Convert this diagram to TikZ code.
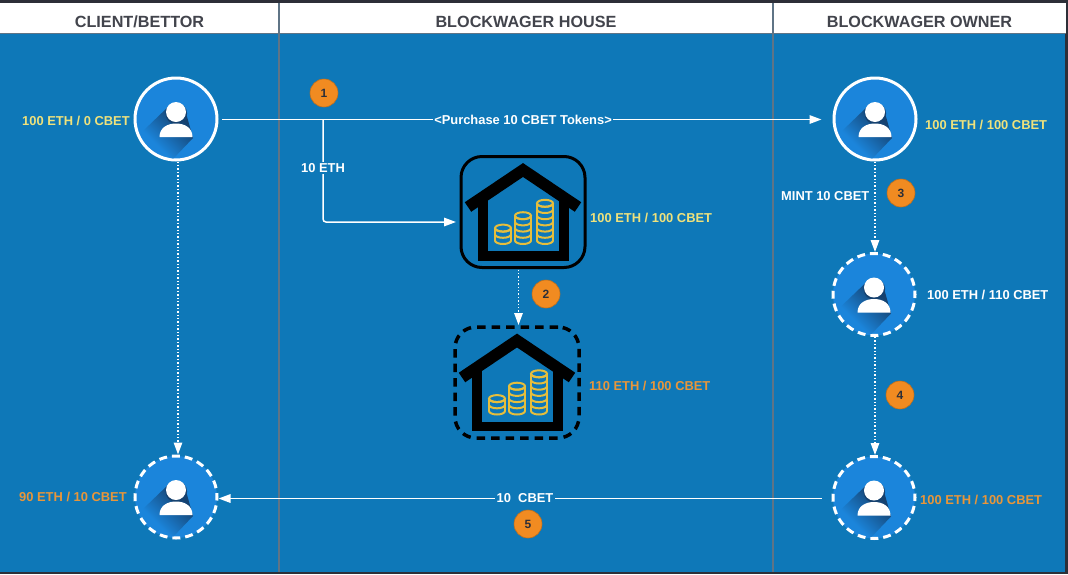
\documentclass[tikz,border=0pt]{standalone}
\usepackage{fontspec}
\setmainfont{Liberation Sans}
\usetikzlibrary{arrows.meta}

\definecolor{laneblue}{HTML}{0E78B8}
\definecolor{discblue}{HTML}{1B85DB}
\definecolor{shadeblue}{HTML}{15416F}
\definecolor{edgedark}{HTML}{2D2F38}
\definecolor{lanegrey}{HTML}{5F7486}
\definecolor{coinyellow}{HTML}{E6BE3C}
\definecolor{amtyellow}{HTML}{EFE27C}
\definecolor{amtorange}{HTML}{E8963A}
\definecolor{badgeorange}{HTML}{F18B21}

\pgfdeclareverticalshading{personshade}{100bp}{color(0bp)=(discblue); color(36bp)=(discblue);
  color(67bp)=(shadeblue); color(100bp)=(shadeblue)}

\tikzset{
  lanehead/.style={font=\fontsize{16.2}{16}\selectfont\bfseries, text=edgedark!90},
  amount/.style={font=\fontsize{12.9}{13}\selectfont\bfseries, inner sep=0pt, anchor=west},
  onwire/.style={font=\fontsize{12.9}{13}\selectfont\bfseries, text=white, fill=laneblue, inner sep=1.5pt},
  badge/.style={circle, fill=badgeorange, draw=badgeorange!80!black, line width=0.6pt, minimum size=28pt,
    inner sep=0pt, text=edgedark, font=\fontsize{12}{12}\selectfont\bfseries},
  persondisc/.style={circle, fill=discblue, draw=white, line width=3pt, minimum size=82pt, inner sep=0pt, outer sep=1.5pt},
  persondash/.style={persondisc, dash pattern=on 7.9pt off 5pt, dash phase=3.95pt},
  housebox/.style={rounded corners=21pt, draw=black, line width=3pt, minimum width=124pt, minimum height=111pt,
    inner sep=0pt, outer sep=2pt},
  housedash/.style={housebox, line width=3.5pt, dash pattern=on 8.5pt off 6pt},
  wire/.style={draw=white, line width=1.5pt},
  dotwire/.style={draw=white, line width=1.4pt, dotted},
  tip/.style={-{Triangle[length=12pt,width=8.5pt]}},
  person/.pic={
    \begin{scope}
      \clip (0,0) circle (39.5);
      \clip (-8,-12) -- (-33,12) -- (-4,41) -- (17,19) -- (10,-6) -- cycle;
      \shade[shading=personshade, shading angle=-45] (-38,-16) rectangle (22,44);
    \end{scope}
    \fill[shadeblue] (0.3,-5.5) circle (10.8);
    \fill[white] (-16.5,18) -- (16.5,18) .. controls (16.5,9) and (9,4.5) .. (0,4.5)
      .. controls (-9,4.5) and (-16.5,9) .. (-16.5,18) -- cycle;
    \fill[white] (0,-7) circle (10);
  },
  pics/coinstack/.style={code={
    \foreach \k in {0,...,#1} {
      \draw[coinyellow, line width=2pt] (-8,-\k*6.2-3.5) arc[start angle=180, end angle=0, x radius=8, y radius=3.5];
    }
    \draw[coinyellow, line width=2pt] (0,-#1*6.2-3.5) ellipse (8 and 3.5);
    \draw[coinyellow, line width=2pt] (-8,-#1*6.2-3.5) -- (-8,-3.5) (8,-#1*6.2-3.5) -- (8,-3.5);
  }},
  house/.pic={
    \draw[black, line width=11.5pt, miter limit=10] (-55,-5) -- (0,-42) -- (55,-5);
    \draw[black, line width=9.5pt] (-40,-14) -- (-40,44) -- (41,44) -- (41,-14);
    \pic at (-20,32) {coinstack=2};
    \pic at (0,32) {coinstack=4};
    \pic at (22,32) {coinstack=6};
  }
}

\begin{document}
\begin{tikzpicture}[x=1pt,y=-1pt]
\useasboundingbox (0,0) rectangle (1068,574);
\fill[edgedark] (0,0) rectangle (1068,574);
\fill[white] (0,3) rectangle (1066,33);
\fill[laneblue] (0,34) rectangle (1065,572);
\draw[lanegrey, line width=1pt] (0,33.5) -- (1066,33.5);
\draw[lanegrey, line width=1.2pt] (279,3) -- (279,572);
\draw[lanegrey, line width=1.2pt] (773,3) -- (773,572);

\node[lanehead] (headclient) at (139.5,22) {CLIENT/BETTOR};
\node[lanehead] (headhouse) at (526,22) {BLOCKWAGER HOUSE};
\node[lanehead] (headowner) at (919.5,22) {BLOCKWAGER OWNER};

% people
\node[persondisc] (clienttop) at (176,119) {};
\node[persondash] (clientbot) at (176,497) {};
\node[persondisc] (ownertop) at (875,119) {};
\node[persondash] (ownermid) at (874,294.5) {};
\node[persondash] (ownerbot) at (874,497.5) {};
\foreach \who in {clienttop,clientbot,ownertop,ownermid,ownerbot}
  \pic at (\who) {person};

% houses
\node[housebox] (housetop) at (523,212) {};
\node[housedash] (housebot) at (517,382.5) {};
\foreach \who in {housetop,housebot}
  \pic at (\who) {house};

% amounts
\node[amount, text=amtyellow] (amtclient) at (22,120.5) {100 ETH / 0 CBET};
\node[amount, text=amtyellow] (amtowner) at (925,125) {100 ETH / 100 CBET};
\node[amount, text=amtyellow] (amthouse) at (590,217.5) {100 ETH / 100 CBET};
\node[amount, text=amtorange] (amthousetwo) at (589,386) {110 ETH / 100 CBET};
\node[amount, text=white] (amtmint) at (927,294.5) {100 ETH / 110 CBET};
\node[amount, text=amtorange] (amtownerbot) at (920,499.5) {100 ETH / 100 CBET};
\node[amount, text=amtorange] (amtclientbot) at (19,496.5) {90 ETH / 10 CBET};
\node[amount, text=white] (mintlabel) at (781,196.5) {MINT 10 CBET};

% connectors
\coordinate (fork) at (323,119.5);
\coordinate (forkend) at (323,222);
\coordinate (backline) at (323,498.5);
\draw[wire, tip, shorten <=3.5pt, shorten >=11pt] (clienttop.east |- fork) -- (ownertop.west |- fork)
  node[onwire, pos=0.496] (buylabel) {<Purchase 10 CBET Tokens>};
\draw[wire, tip, rounded corners=3pt, shorten >=3pt] (fork) -- (forkend) -- (housetop.west |- forkend);
\node[onwire] (ethlabel) at (323,168) {10 ETH};
\draw[dotwire, tip] ([xshift=2pt]clienttop.south) -- ([xshift=2pt]clientbot.north);
\draw[dotwire, tip] (ownertop.south) -- ([xshift=1pt]ownermid.north);
\draw[dotwire, tip] ([xshift=1pt]ownermid.south) -- ([xshift=1pt]ownerbot.north);
\draw[dotwire, tip] ([xshift=-4.5pt]housetop.south) -- ([xshift=1.5pt]housebot.north);
\draw[wire, tip, shorten <=10pt] (ownerbot.west |- backline) -- (clientbot.east |- backline)
  node[onwire, pos=0.5] (cbetlabel) {10\ \ CBET};

% steps
\node[badge] (stepone) at (324,93) {1};
\node[badge] (steptwo) at (546,294) {2};
\node[badge] (stepthree) at (901,193) {3};
\node[badge] (stepfour) at (900,395) {4};
\node[badge] (stepfive) at (528,524) {5};
\end{tikzpicture}
\end{document}
